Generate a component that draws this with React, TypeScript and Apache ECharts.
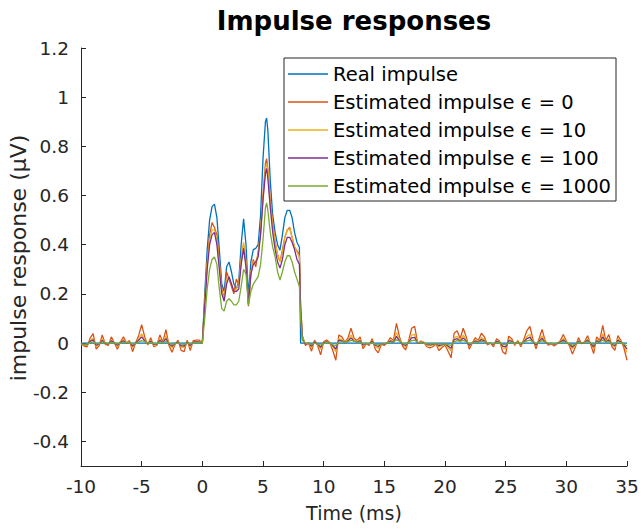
import React, { useEffect, useRef } from "react";
import * as echarts from "echarts";

const FONT = "'DejaVu Sans', 'Liberation Sans', Arial, sans-serif";

const seriesNames = [
  "Real impulse",
  "Estimated impulse ϵ = 0",
  "Estimated impulse ϵ = 10",
  "Estimated impulse ϵ = 100",
  "Estimated impulse ϵ = 1000",
];
const seriesColors = ["#0072BD", "#D95319", "#EDB120", "#7E2F8E", "#77AC30"];

const xMin = -10;
const xMax = 35;
const xStep = 5;
const yMin = -0.5;
const yMax = 1.2;
const yTickValues = [-0.4, -0.2, 0, 0.2, 0.4, 0.6, 0.8, 1, 1.2];

const titleText = "Impulse responses";
const xName = "Time (ms)";
const yName = "impulse response (μV)";

// sample times (ms)
const preTime = [
  -10, -9.75, -9.5, -9.25, -9, -8.75, -8.5, -8.25, -8, -7.75,
  -7.5, -7.25, -7, -6.75, -6.5, -6.25, -6, -5.75, -5.5, -5.25,
  -5, -4.75, -4.5, -4.25, -4, -3.75, -3.5, -3.25, -3, -2.75,
  -2.5, -2.25, -2, -1.75, -1.5, -1.25, -1, -0.75, -0.5, -0.25,
];
const pulseTime = [
  0, 0.2, 0.4, 0.6, 0.8, 1.0, 1.2, 1.4, 1.6, 1.8,
  2.0, 2.2, 2.4, 2.6, 2.8, 3.0, 3.2, 3.4, 3.6, 3.8,
  4.0, 4.2, 4.4, 4.6, 4.8, 5.0, 5.2, 5.3, 5.4, 5.6,
  5.8, 6.0, 6.2, 6.4, 6.6, 6.8, 7.0, 7.2, 7.4, 7.6,
  7.8, 8.0, 8.1,
];
const postTime = [
  8.25, 8.5, 8.75,
  9, 9.25, 9.5, 9.75, 10, 10.25, 10.5, 10.75, 11, 11.25, 11.5, 11.75,
  12, 12.25, 12.5, 12.75, 13, 13.25, 13.5, 13.75, 14, 14.25, 14.5, 14.75,
  15, 15.25, 15.5, 15.75, 16, 16.25, 16.5, 16.75, 17, 17.25, 17.5, 17.75,
  18, 18.25, 18.5, 18.75, 19, 19.25, 19.5, 19.75, 20, 20.25, 20.5, 20.75,
  21, 21.25, 21.5, 21.75, 22, 22.25, 22.5, 22.75, 23, 23.25, 23.5, 23.75,
  24, 24.25, 24.5, 24.75, 25, 25.25, 25.5, 25.75, 26, 26.25, 26.5, 26.75,
  27, 27.25, 27.5, 27.75, 28, 28.25, 28.5, 28.75, 29, 29.25, 29.5, 29.75,
  30, 30.25, 30.5, 30.75, 31, 31.25, 31.5, 31.75, 32, 32.25, 32.5, 32.75,
  33, 33.25, 33.5, 33.75, 34, 34.25, 34.5, 34.75, 35,
];

// Real impulse (zero outside the pulse)
const realPulse = [
  0, 0.2, 0.38, 0.5, 0.555, 0.565, 0.51, 0.38, 0.24, 0.21,
  0.31, 0.33, 0.29, 0.24, 0.22, 0.25, 0.4, 0.505, 0.4, 0.19,
  0.33, 0.38, 0.385, 0.4, 0.52, 0.75, 0.9, 0.915, 0.865, 0.66,
  0.52, 0.45, 0.4, 0.378, 0.44, 0.51, 0.54, 0.54, 0.51, 0.45,
  0.41, 0.39, 0.0,
];

// epsilon = 0
const eps0Pre = [
  0, -0.012, -0.015, 0.02, 0.038, -0.025, -0.01, 0.033, -0.005, -0.01,
  0.025, 0, -0.025, 0.005, 0.025, 0, 0.01, -0.035, 0, 0.03,
  0.075, 0.025, -0.008, 0.022, -0.015, -0.01, 0.033, 0.005, 0.055, -0.01,
  -0.037, -0.006, 0.012, -0.03, -0.035, 0.012, -0.03, 0.01, 0.012, 0.012,
];
const eps0Pulse = [
  0, 0.17, 0.33, 0.44, 0.49, 0.47, 0.44, 0.33, 0.22, 0.18,
  0.29, 0.26, 0.23, 0.2, 0.26, 0.24, 0.33, 0.4, 0.32, 0.15,
  0.28, 0.34, 0.31, 0.37, 0.45, 0.6, 0.73, 0.75, 0.71, 0.58,
  0.49, 0.41, 0.36, 0.33, 0.38, 0.43, 0.46, 0.47, 0.43, 0.39,
  0.375, 0.36, 0.15,
];
const eps0Post = [
  0.03, -0.01, 0.0,
  -0.033, 0.012, -0.01, -0.048, 0.006, 0.012, 0.002, -0.03, -0.07, 0.033, 0.025, 0.004,
  0.02, 0.06, 0.02, 0.01, 0.025, -0.023, -0.003, -0.01, 0.018, -0.025, -0.04, -0.005,
  -0.01, 0.002, 0.022, 0.01, 0.08, 0.025, -0.012, -0.028, 0.01, 0.06, 0.068, -0.002,
  0.008, 0.003, -0.015, -0.02, -0.015, -0.004, -0.03, -0.018, -0.008, -0.033, -0.06, 0.04,
  0.05, 0.018, 0.06, 0.025, -0.025, 0.0, 0.022, 0.01, 0.04, 0.025, -0.008, 0.0,
  -0.015, 0.018, 0.008, -0.035, -0.045, 0.028, 0.018, -0.01, 0.01, -0.015, 0.015, 0.051,
  0.068, 0.015, -0.023, 0.018, 0.055, 0.01, -0.008, -0.003, -0.012, -0.003, 0.01, 0.035,
  0.008, -0.01, -0.045, -0.015, 0.022, -0.003, 0.005, 0.03, -0.005, -0.043, 0.025, 0.01,
  0.072, 0.01, 0.035, -0.014, -0.03, 0.03, 0.01, -0.02, -0.07,
];

// epsilon = 10
const eps10Pre = [
  -0.005, -0.008, -0.009, 0.01, 0.02, -0.014, -0.006, 0.017, -0.003, -0.006,
  0.013, 0.0, -0.014, 0.003, 0.014, 0.0, 0.006, -0.019, 0.0, 0.016,
  0.038, 0.013, -0.005, 0.012, -0.008, -0.006, 0.017, 0.003, 0.028, -0.006,
  -0.02, -0.004, 0.007, -0.016, -0.019, 0.007, -0.016, 0.005, 0.007, 0.006,
];
const eps10Pulse = [
  0, 0.16, 0.32, 0.42, 0.46, 0.46, 0.42, 0.32, 0.21, 0.18,
  0.26, 0.27, 0.24, 0.21, 0.22, 0.24, 0.34, 0.41, 0.33, 0.16,
  0.29, 0.33, 0.33, 0.36, 0.45, 0.59, 0.71, 0.73, 0.7, 0.57,
  0.48, 0.41, 0.36, 0.33, 0.37, 0.43, 0.46, 0.465, 0.43, 0.39,
  0.37, 0.35, 0.15,
];
const eps10Post = [
  0.02, -0.005, 0.0,
  -0.018, 0.008, -0.006, -0.025, 0.004, 0.007, 0.0, -0.015, -0.035, 0.018, 0.014, 0.002,
  0.012, 0.032, 0.012, 0.006, 0.014, -0.012, -0.002, -0.006, 0.01, -0.014, -0.022, -0.003,
  -0.006, 0.002, 0.012, 0.006, 0.042, 0.014, -0.006, -0.015, 0.006, 0.032, 0.035, 0.0,
  0.005, 0.002, -0.008, -0.011, -0.008, -0.002, -0.016, -0.01, -0.004, -0.018, -0.032, 0.022,
  0.027, 0.01, 0.032, 0.014, -0.013, 0.0, 0.012, 0.006, 0.022, 0.014, -0.004, 0.0,
  -0.008, 0.01, 0.005, -0.019, -0.024, 0.015, 0.01, -0.005, 0.006, -0.008, 0.008, 0.027,
  0.036, 0.008, -0.012, 0.01, 0.029, 0.006, -0.004, -0.002, -0.006, -0.002, 0.006, 0.019,
  0.005, -0.005, -0.024, -0.008, 0.012, -0.002, 0.003, 0.016, -0.003, -0.023, 0.014, 0.006,
  0.038, 0.006, 0.019, -0.007, -0.016, 0.016, 0.006, -0.01, -0.038,
];

// epsilon = 100
const eps100Pre = [
  -0.004, -0.006, -0.006, 0.007, 0.013, -0.009, -0.004, 0.011, -0.002, -0.004,
  0.009, 0.0, -0.009, 0.002, 0.009, 0.0, 0.004, -0.012, 0.0, 0.011,
  0.025, 0.009, -0.003, 0.008, -0.005, -0.004, 0.011, 0.002, 0.018, -0.004,
  -0.013, -0.003, 0.005, -0.011, -0.012, 0.005, -0.01, 0.004, 0.005, 0.004,
];
const eps100Pulse = [
  0, 0.15, 0.3, 0.4, 0.44, 0.45, 0.4, 0.3, 0.2, 0.17,
  0.24, 0.27, 0.24, 0.21, 0.21, 0.22, 0.32, 0.385, 0.31, 0.16,
  0.28, 0.32, 0.33, 0.35, 0.44, 0.58, 0.69, 0.71, 0.67, 0.55,
  0.45, 0.38, 0.33, 0.305, 0.34, 0.4, 0.43, 0.43, 0.41, 0.38,
  0.34, 0.32, 0.14,
];
const eps100Post = [
  0.015, -0.004, 0.0,
  -0.012, 0.005, -0.004, -0.017, 0.002, 0.005, 0.0, -0.01, -0.024, 0.012, 0.009, 0.002,
  0.008, 0.021, 0.008, 0.004, 0.009, -0.008, -0.001, -0.004, 0.007, -0.009, -0.014, -0.002,
  -0.004, 0.001, 0.008, 0.004, 0.027, 0.009, -0.004, -0.01, 0.004, 0.021, 0.023, 0.0,
  0.003, 0.001, -0.005, -0.007, -0.005, -0.001, -0.011, -0.006, -0.003, -0.012, -0.021, 0.014,
  0.018, 0.007, 0.021, 0.009, -0.009, 0.0, 0.008, 0.004, 0.014, 0.009, -0.003, 0.0,
  -0.005, 0.007, 0.003, -0.012, -0.016, 0.01, 0.007, -0.003, 0.004, -0.005, 0.005, 0.018,
  0.024, 0.005, -0.008, 0.007, 0.019, 0.004, -0.003, -0.001, -0.004, -0.001, 0.004, 0.012,
  0.003, -0.004, -0.016, -0.005, 0.008, -0.001, 0.002, 0.011, -0.002, -0.015, 0.009, 0.004,
  0.025, 0.004, 0.012, -0.005, -0.011, 0.011, 0.004, -0.007, -0.025,
];

// epsilon = 1000
const eps1000Pre = [
  -0.004, -0.005, -0.004, 0.002, 0.005, -0.002, -0.003, 0.004, 0.001, -0.002,
  0.003, 0.001, -0.003, 0.0, 0.004, 0.002, 0.002, -0.004, -0.001, 0.004,
  0.01, 0.006, 0.0, 0.003, -0.002, -0.002, 0.004, 0.002, 0.006, 0.0,
  -0.005, -0.003, 0.001, -0.004, -0.005, 0.0, -0.003, 0.001, 0.002, 0.002,
];
const eps1000Pulse = [
  0, 0.1, 0.22, 0.3, 0.34, 0.35, 0.32, 0.22, 0.14, 0.13,
  0.17, 0.18, 0.17, 0.155, 0.155, 0.17, 0.23, 0.3, 0.28, 0.155,
  0.21, 0.24, 0.255, 0.27, 0.32, 0.42, 0.55, 0.57, 0.54, 0.45,
  0.39, 0.35, 0.29, 0.256, 0.29, 0.33, 0.355, 0.355, 0.33, 0.29,
  0.26, 0.23, 0.1,
];
const eps1000Post = [
  0.01, 0.0, -0.002,
  -0.006, 0.0, -0.004, -0.008, -0.002, 0.003, 0.0, -0.006, -0.01, 0.004, 0.006, 0.003,
  0.006, 0.011, 0.008, 0.004, 0.004, -0.003, -0.002, -0.002, 0.002, -0.005, -0.007, -0.003,
  -0.002, 0.001, 0.004, 0.005, 0.013, 0.008, -0.001, -0.004, 0.002, 0.01, 0.012, 0.003,
  0.002, 0.0, -0.003, -0.004, -0.003, -0.002, -0.005, -0.004, -0.003, -0.006, -0.009, 0.005,
  0.01, 0.007, 0.011, 0.006, -0.003, 0.0, 0.004, 0.004, 0.007, 0.005, 0.0, -0.001,
  -0.002, 0.003, 0.001, -0.005, -0.007, 0.003, 0.004, -0.001, 0.002, -0.001, 0.003, 0.009,
  0.012, 0.005, -0.003, 0.004, 0.01, 0.004, 0.0, -0.001, -0.002, 0.0, 0.002, 0.006,
  0.002, -0.002, -0.008, -0.004, 0.004, 0.001, 0.002, 0.006, 0.0, -0.007, 0.004, 0.003,
  0.012, 0.004, 0.006, -0.002, -0.005, 0.005, 0.002, -0.004, -0.012,
];

const pairs = (times: number[], vals: number[]) => times.map((t, i) => [t, vals[i]]);

const realData = [[xMin, 0], ...pairs(pulseTime, realPulse), [xMax, 0]];
const estimated = [
  [eps0Pre, eps0Pulse, eps0Post],
  [eps10Pre, eps10Pulse, eps10Post],
  [eps100Pre, eps100Pulse, eps100Post],
  [eps1000Pre, eps1000Pulse, eps1000Post],
].map(([a, b, c]) => [...pairs(preTime, a), ...pairs(pulseTime, b), ...pairs(postTime, c)]);

const allData = [realData, ...estimated];

export default function App() {
  const ref = useRef<HTMLDivElement>(null);
  useEffect(() => {
    if (!ref.current) return;
    const chart = echarts.init(ref.current, undefined, { renderer: "svg" });
    const axisColor = "#262626";
    chart.setOption({
      animation: false,
      backgroundColor: "#ffffff",
      grid: { left: 81, right: 16, top: 48, bottom: 63, containLabel: false, outerBoundsMode: "none" },
      graphic: [
        {
          type: "text",
          x: 354,
          y: 21,
          style: {
            text: titleText,
            fontSize: 26,
            fontWeight: "bold",
            fontFamily: FONT,
            fill: "#000",
            align: "center",
            verticalAlign: "middle",
          },
        },
        {
          type: "text",
          x: 18,
          y: 258,
          rotation: Math.PI / 2,
          style: {
            text: yName,
            fontSize: 22,
            fontFamily: FONT,
            fill: axisColor,
            align: "center",
            verticalAlign: "middle",
          },
        },
      ],
      legend: {
        orient: "vertical",
        left: 284,
        top: 58,
        padding: [6, 2, 5, 4],
        itemWidth: 40,
        itemHeight: 1.5,
        itemGap: 8,
        icon: "rect",
        backgroundColor: "#ffffff",
        borderColor: axisColor,
        borderWidth: 1,
        borderRadius: 0,
        selectedMode: false,
        data: seriesNames,
        textStyle: { fontSize: 19.5, fontFamily: FONT, color: "#000", width: 281, lineHeight: 20 },
      },
      xAxis: {
        type: "value",
        min: xMin,
        max: xMax,
        interval: xStep,
        name: xName,
        nameLocation: "middle",
        nameGap: 37,
        nameTextStyle: { fontSize: 19, fontFamily: FONT, color: axisColor },
        axisLine: { onZero: false, lineStyle: { color: axisColor, width: 1 } },
        axisTick: { inside: true, length: 5, lineStyle: { color: axisColor } },
        axisLabel: { fontSize: 18.5, fontFamily: FONT, color: axisColor, margin: 11 },
        splitLine: { show: false },
      },
      yAxis: {
        type: "value",
        min: yMin,
        max: yMax,
        axisLine: { show: true, onZero: false, lineStyle: { color: axisColor, width: 1 } },
        axisTick: { show: true, inside: true, length: 5, lineStyle: { color: axisColor }, customValues: yTickValues },
        axisLabel: { fontSize: 18.5, fontFamily: FONT, color: axisColor, margin: 12, customValues: yTickValues },
        splitLine: { show: false },
      },
      series: allData.map((d, i) => ({
        name: seriesNames[i],
        type: "line",
        data: d,
        symbol: "none",
        showSymbol: false,
        clip: true,
        lineStyle: { color: seriesColors[i], width: 1.3 },
        itemStyle: { color: seriesColors[i] },
      })),
    });
    return () => chart.dispose();
  }, []);
  return <div ref={ref} style={{ position: "fixed", left: 0, top: 0, width: 643, height: 529 }} />;
}
